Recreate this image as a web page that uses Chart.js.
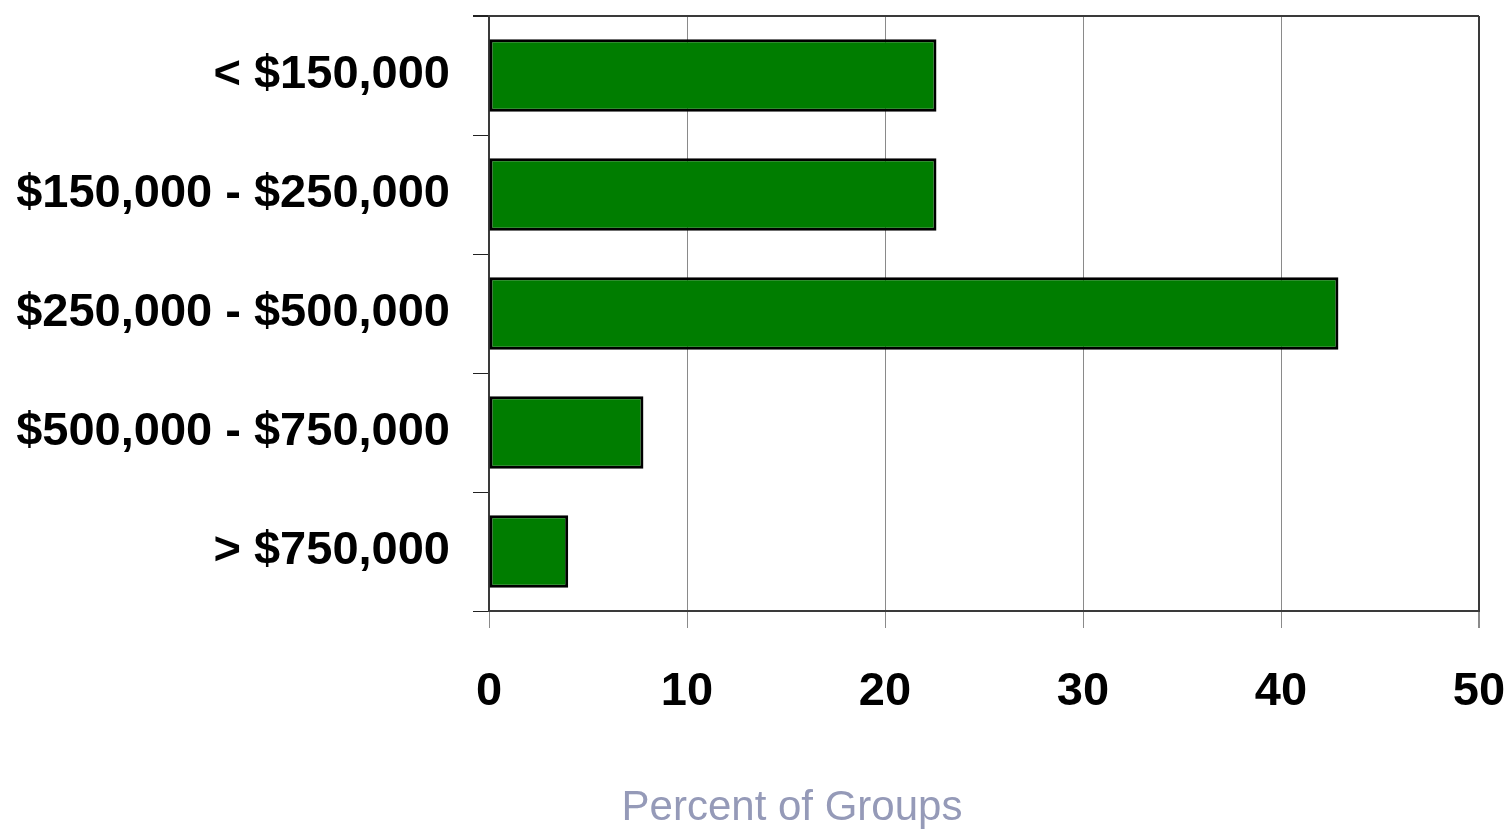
<!DOCTYPE html>
<html>
<head>
<meta charset="utf-8">
<title>Percent of Groups</title>
<script src="https://cdn.jsdelivr.net/npm/chart.js@4/dist/chart.umd.min.js"></script>
<style>
    html, body { margin: 0; padding: 0; background: #fff; }
    #groupsChart { display: block; }
</style>
</head>
<body>
<canvas id="groupsChart" width="1510" height="832"></canvas>
<script>
    // group size bands and share of groups in each (%)
    var sizeBands = ['< $150,000', '$150,000 - $250,000', '$250,000 - $500,000', '$500,000 - $750,000', '> $750,000'];
    var groupPercents = [22.6, 22.6, 42.9, 7.8, 4.0];
    var xTickValues = [0, 10, 20, 30, 40, 50];
    var xAxisCaption = 'Percent of Groups';

    var FRAME = '#3a3a3a';
    var GRID = '#8a8a8a';
    var FONT = "'Liberation Sans', Arial, sans-serif";

    // caption under the x axis, sits a bit left of the plot centre
    const captionPlugin = {
        id: 'axisCaption',
        afterDraw: function (chart, args, opts) {
            const c = chart.ctx;
            c.save();
            c.fillStyle = opts.color;
            c.font = opts.font;
            c.textAlign = 'center';
            c.textBaseline = 'middle';
            c.fillText(opts.text, opts.x, opts.y);
            c.restore();
        }
    };

    const ctx = document.getElementById('groupsChart').getContext('2d');

    const groupsChart = new Chart(ctx, {
        type: 'bar',
        data: {
            labels: sizeBands,
            datasets: [
                {
                    label: xAxisCaption,
                    data: groupPercents,
                    backgroundColor: '#007d00',
                    borderColor: '#000000',
                    borderWidth: 3,
                    borderSkipped: false,
                    barPercentage: 0.61,
                    categoryPercentage: 1.0,
                },
            ]
        },
        plugins: [captionPlugin],
        options: {
            indexAxis: 'y',
            responsive: false,
            animation: false,
            layout: {
                padding: { left: 5, right: 31, top: 16, bottom: 0 }
            },
            plugins: {
                legend: { display: false },
                tooltip: { enabled: false },
                axisCaption: {
                    text: xAxisCaption,
                    color: '#959ab8',
                    font: "42px 'Liberation Sans', Arial, sans-serif",
                    x: 792,
                    y: 808
                }
            },
            scales: {
                x: {
                    min: 0,
                    max: 50,
                    afterBuildTicks: function (scale) {
                        scale.ticks = xTickValues.map(function (v) { return { value: v }; });
                    },
                    afterFit: function (scale) {
                        scale.height = 221;
                        scale.paddingLeft = 0;
                        scale.paddingRight = 0;
                    },
                    grid: {
                        color: function (c) {
                            return (c.tick && c.tick.value === 50) ? FRAME : GRID;
                        },
                        tickColor: GRID,
                        tickLength: 17,
                        lineWidth: function (c) {
                            return (c.tick && c.tick.value === 50) ? 2 : 1;
                        }
                    },
                    border: { display: true, color: FRAME, width: 2 },
                    ticks: {
                        color: '#000000',
                        padding: 36,
                        font: { family: FONT, size: 47, weight: 'bold' }
                    }
                },
                y: {
                    afterFit: function (scale) {
                        scale.width = 484;
                        scale.paddingTop = 0;
                        scale.paddingBottom = 0;
                    },
                    grid: {
                        offset: true,
                        // only the top edge runs across the plot, the rest are tick marks
                        color: function (c) {
                            return c.index === 0 ? FRAME : 'rgba(0,0,0,0)';
                        },
                        lineWidth: function (c) {
                            return c.index === 0 ? 2 : 1;
                        },
                        tickColor: '#222222',
                        tickLength: 16
                    },
                    border: { display: true, color: FRAME, width: 2 },
                    ticks: {
                        color: '#000000',
                        padding: 23,
                        font: { family: FONT, size: 47, weight: 'bold' }
                    }
                }
            }
        }
    });
</script>
</body>
</html>
